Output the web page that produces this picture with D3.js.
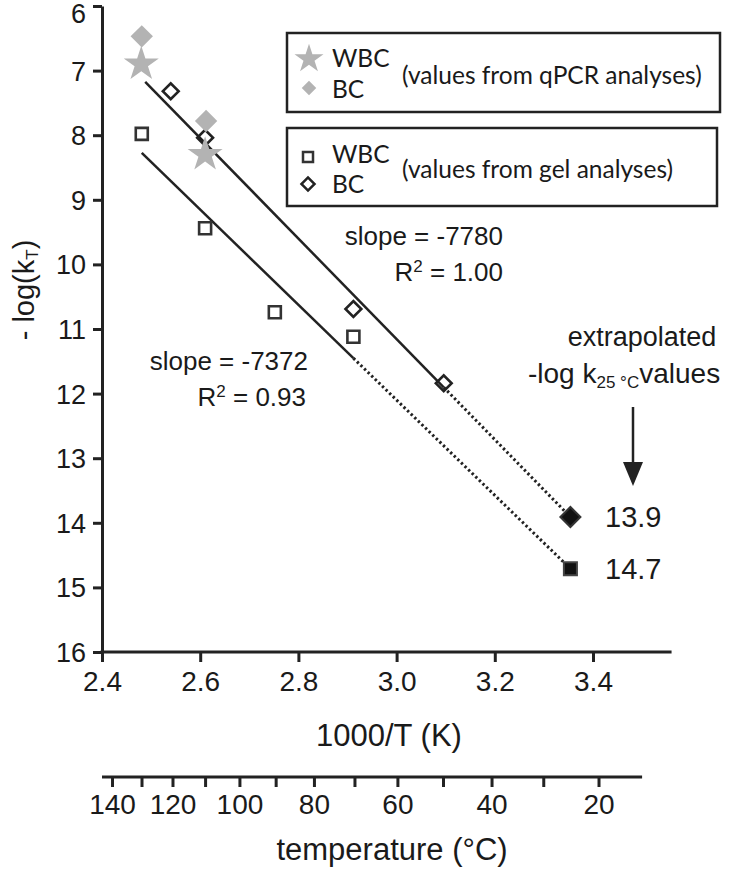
<!DOCTYPE html>
<html>
<head>
<meta charset="utf-8">
<script src="https://cdn.jsdelivr.net/npm/d3@7"></script>
<style>
  html, body { margin: 0; padding: 0; background: #fff; }
  svg { display: block; }
  text { font-family: "Liberation Sans", Arial, sans-serif; fill: #1a1a1a; }
  .leg { font-family: Lato, "Open Sans", sans-serif; }
</style>
</head>
<body>
<svg id="chart" width="735" height="871"></svg>
<script>
// ---------- data ----------
const xTicks = [2.4, 2.6, 2.8, 3.0, 3.2, 3.4];
const yTicks = [6, 7, 8, 9, 10, 11, 12, 13, 14, 15, 16];
const tempTicks = [140, 130, 120, 110, 100, 90, 80, 70, 60, 50, 40, 30, 20];
const tempLabels = [140, 120, 100, 80, 60, 40, 20];
const tempAxisRange = [2.4, 3.5];
const xAxisMax = 3.56;

// qPCR values (grey)
const qpcrWBC = [ {x: 2.480, y: 6.90}, {x: 2.610, y: 8.30} ];
const qpcrBC  = [ {x: 2.481, y: 6.47}, {x: 2.612, y: 7.78} ];
// gel values (open)
const gelWBC = [ {x: 2.481, y: 7.98}, {x: 2.610, y: 9.44}, {x: 2.752, y: 10.74}, {x: 2.912, y: 11.12} ];
const gelBC  = [ {x: 2.540, y: 7.32}, {x: 2.610, y: 8.04}, {x: 2.912, y: 10.69}, {x: 3.096, y: 11.84} ];
// extrapolated 25 °C values
const extrapBC  = [ {x: 3.354, y: 13.91, label: "13.9"} ];
const extrapWBC = [ {x: 3.354, y: 14.71, label: "14.7"} ];
// regression lines: -log k = intercept + slope * (1000/T)
const fitSlopes     = [7.780, 7.372];
const fitIntercepts = [-12.184, -10.016];
const fitStart      = [2.488, 2.481];
const fitSolidEnd   = [3.096, 2.912];
const fitEnd        = [3.354, 3.354];
const fitSlopeText  = ["slope = -7780", "slope = -7372"];
const fitR2Value    = ["1.00", "0.93"];

// ---------- setup ----------
const svg = d3.select("#chart");
const ink = "#222";
const grey = "#b3b3b3";
const x = d3.scaleLinear().domain([2.4, 3.4]).range([102, 593]);
const y = d3.scaleLinear().domain([6, 16]).range([6, 652]);

// ---------- axes ----------
const yAxis = svg.append("g").attr("transform", `translate(${x(2.4)},0)`)
  .call(d3.axisLeft(y).tickValues(yTicks).tickSize(9).tickSizeOuter(0).tickPadding(7).tickFormat(d3.format("d")));
yAxis.selectAll("path.domain").attr("stroke", ink).attr("stroke-width", 3);
yAxis.selectAll(".tick line").attr("stroke", ink).attr("stroke-width", 3);
yAxis.selectAll(".tick text").attr("font-size", 27).attr("fill", "#1a1a1a")
  .attr("font-family", "Liberation Sans, Arial, sans-serif")
  .attr("dy", d => d === 6 ? "0.6em" : "0.35em");

const xAxis = svg.append("g").attr("transform", `translate(0,${y(16)})`)
  .call(d3.axisBottom(x).tickValues(xTicks).tickSize(10).tickSizeOuter(0).tickPadding(9).tickFormat(d3.format(".1f")));
xAxis.select("path.domain").remove();
xAxis.append("line").attr("x1", x(2.4) - 1.5).attr("x2", x(xAxisMax)).attr("stroke", ink).attr("stroke-width", 3);
xAxis.selectAll(".tick line").attr("stroke", ink).attr("stroke-width", 3);
xAxis.selectAll(".tick text").attr("font-size", 28).attr("fill", "#1a1a1a")
  .attr("font-family", "Liberation Sans, Arial, sans-serif");

svg.append("text").attr("x", 389).attr("y", 746).attr("text-anchor", "middle")
  .attr("font-size", 31).text("1000/T (K)");

// temperature axis
const tempY = 777;
const tAxis = svg.append("g").attr("transform", `translate(0,${tempY})`)
  .call(d3.axisBottom(x).tickValues(tempTicks.map(c => 1000 / (c + 273.15)))
    .tickSize(10).tickSizeOuter(0).tickPadding(7)
    .tickFormat((v, i) => tempLabels.includes(tempTicks[i]) ? tempTicks[i] : ""));
tAxis.select("path.domain").remove();
tAxis.append("line").attr("x1", x(tempAxisRange[0])).attr("x2", x(tempAxisRange[1]))
  .attr("stroke", ink).attr("stroke-width", 3);
tAxis.selectAll(".tick line").attr("stroke", ink).attr("stroke-width", 3);
tAxis.selectAll(".tick text").attr("font-size", 28).attr("fill", "#1a1a1a")
  .attr("font-family", "Liberation Sans, Arial, sans-serif");

svg.append("text").attr("x", 392).attr("y", 860).attr("text-anchor", "middle")
  .attr("font-size", 31).text("temperature (°C)");

// y-axis title
const yt = svg.append("text").attr("transform", "translate(34,290) rotate(-90)")
  .attr("text-anchor", "middle").attr("font-size", 29);
yt.append("tspan").text("- log(k");
yt.append("tspan").attr("font-size", 17).attr("baseline-shift", "-25%").text("T");
yt.append("tspan").text(")");

// ---------- regression lines ----------
fitSlopes.forEach((b, i) => {
  const a = fitIntercepts[i];
  const f = v => a + b * v;
  svg.append("line")
    .attr("x1", x(fitStart[i])).attr("y1", y(f(fitStart[i])))
    .attr("x2", x(fitSolidEnd[i])).attr("y2", y(f(fitSolidEnd[i])))
    .attr("stroke", ink).attr("stroke-width", 2.5);
  svg.append("line")
    .attr("x1", x(fitSolidEnd[i])).attr("y1", y(f(fitSolidEnd[i])))
    .attr("x2", x(fitEnd[i])).attr("y2", y(f(fitEnd[i])))
    .attr("stroke", ink).attr("stroke-width", 3).attr("stroke-dasharray", "2.4,2.6");
});

// ---------- markers ----------
const sym = (type, size) => d3.symbol().type(type).size(size)();

function diamonds(data, size, fill, stroke, sw) {
  svg.append("g").selectAll("path").data(data).join("path")
    .attr("d", sym(d3.symbolSquare, size))
    .attr("transform", d => `translate(${x(d.x)},${y(d.y)}) rotate(45)`)
    .attr("fill", fill).attr("stroke", stroke).attr("stroke-width", sw);
}
function squares(data, size, fill, stroke, sw) {
  svg.append("g").selectAll("path").data(data).join("path")
    .attr("d", sym(d3.symbolSquare, size))
    .attr("transform", d => `translate(${x(d.x)},${y(d.y)})`)
    .attr("fill", fill).attr("stroke", stroke).attr("stroke-width", sw);
}
function stars(data, size) {
  svg.append("g").selectAll("path").data(data).join("path")
    .attr("d", sym(d3.symbolStar, size))
    .attr("transform", d => `translate(${x(d.x)},${y(d.y)})`)
    .attr("fill", grey);
}

squares(gelWBC, 144, "none", "#333", 2.6);
diamonds(gelBC, 125, "none", "#222", 2.6);
diamonds(qpcrBC, 250, grey, "none", 0);
stars(qpcrWBC, 380);
diamonds(extrapBC, 200, "#111", "#333", 2);
squares(extrapWBC, 170, "#111", "#444", 2);

// extrapolated labels
svg.append("g").selectAll("text").data(extrapBC.concat(extrapWBC)).join("text")
  .attr("x", 605).attr("y", d => y(d.y)).attr("dy", "0.36em")
  .attr("font-size", 29).text(d => d.label);

// ---------- annotations ----------
function r2(xr, yb, val) {
  const t = svg.append("text").attr("x", xr).attr("y", yb).attr("text-anchor", "end").attr("font-size", 26);
  t.append("tspan").text("R");
  t.append("tspan").attr("font-size", 17).attr("dy", -9).text("2");
  t.append("tspan").attr("dy", 9).text(" = " + val);
}
svg.append("text").attr("x", 503).attr("y", 245).attr("text-anchor", "end").attr("font-size", 26).text(fitSlopeText[0]);
r2(503, 281, fitR2Value[0]);
svg.append("text").attr("x", 308).attr("y", 370).attr("text-anchor", "end").attr("font-size", 26).text(fitSlopeText[1]);
r2(306, 406, fitR2Value[1]);

svg.append("text").attr("x", 642).attr("y", 346).attr("text-anchor", "middle").attr("font-size", 27).text("extrapolated");
const ex = svg.append("text").attr("x", 528).attr("y", 383).attr("font-size", 28);
ex.append("tspan").text("-log k");
ex.append("tspan").attr("font-size", 17).attr("baseline-shift", "-30%").text("25 °C");
ex.append("tspan").text("values");

// arrow
svg.append("line").attr("x1", 633).attr("x2", 633).attr("y1", 407).attr("y2", 466)
  .attr("stroke", ink).attr("stroke-width", 2.5);
svg.append("path").attr("d", "M623,462 L643,462 L633,486 Z").attr("fill", ink);

// ---------- legends ----------
const legBoxes = [
  {x0: 287, y0: 33, x1: 720, y1: 112},
  {x0: 287, y0: 128, x1: 717, y1: 206}
];
svg.append("g").selectAll("rect").data(legBoxes).join("rect")
  .attr("x", d => d.x0).attr("y", d => d.y0)
  .attr("width", d => d.x1 - d.x0).attr("height", d => d.y1 - d.y0)
  .attr("fill", "#fff").attr("stroke", ink).attr("stroke-width", 2.5);

// legend 1
svg.append("path").attr("d", sym(d3.symbolStar, 260)).attr("transform", "translate(309,59)").attr("fill", grey);
svg.append("path").attr("d", sym(d3.symbolSquare, 105)).attr("transform", "translate(309,88) rotate(45)").attr("fill", grey);
svg.append("text").attr("class", "leg").attr("x", 332).attr("y", 67).attr("font-size", 24.5).text("WBC");
svg.append("text").attr("class", "leg").attr("x", 332).attr("y", 98).attr("font-size", 24.5).text("BC");
svg.append("text").attr("class", "leg").attr("x", 402).attr("y", 84).attr("font-size", 24.5).text("(values from qPCR analyses)");

// legend 2
svg.append("path").attr("d", sym(d3.symbolSquare, 100)).attr("transform", "translate(308,157)")
  .attr("fill", "none").attr("stroke", "#333").attr("stroke-width", 2.5);
svg.append("path").attr("d", sym(d3.symbolSquare, 85)).attr("transform", "translate(308,184) rotate(45)")
  .attr("fill", "none").attr("stroke", "#222").attr("stroke-width", 2.5);
svg.append("text").attr("class", "leg").attr("x", 332).attr("y", 163).attr("font-size", 24.5).text("WBC");
svg.append("text").attr("class", "leg").attr("x", 332).attr("y", 193).attr("font-size", 24.5).text("BC");
svg.append("text").attr("class", "leg").attr("x", 402).attr("y", 178).attr("font-size", 24.5).text("(values from gel analyses)");
</script>
</body>
</html>
